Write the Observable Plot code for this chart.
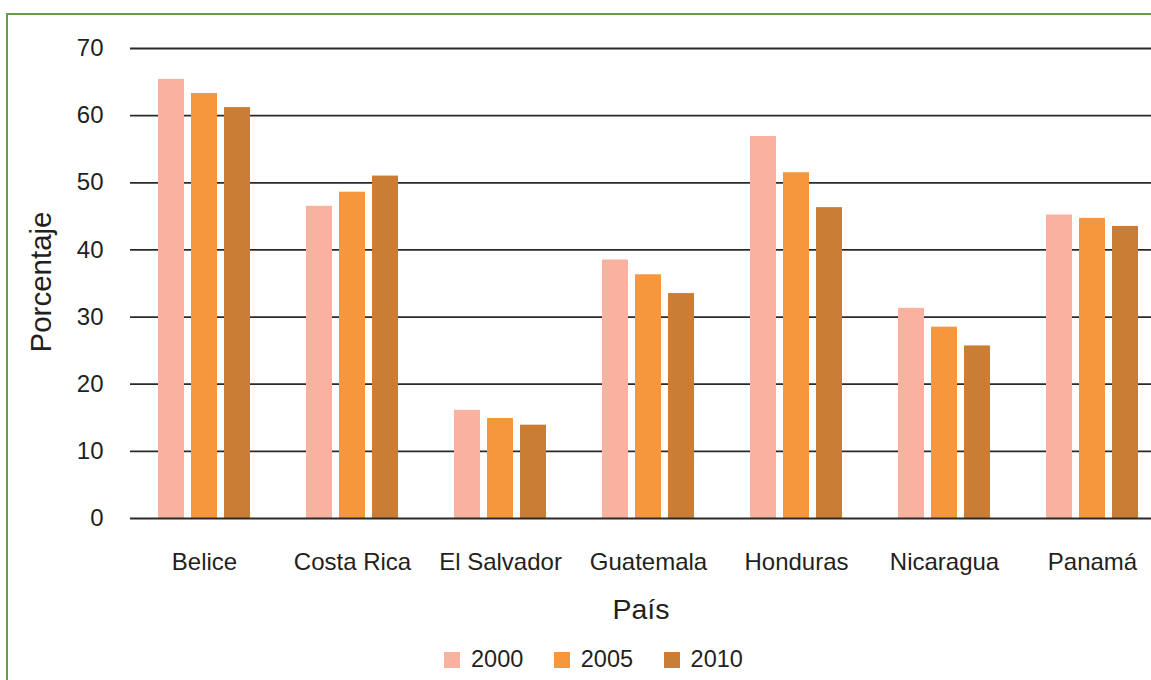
<!DOCTYPE html>
<html>
<head>
<meta charset="utf-8">
<script src="https://cdn.jsdelivr.net/npm/d3@7"></script>
<script src="https://cdn.jsdelivr.net/npm/@observablehq/plot@0.6"></script>
<style>
  html, body { margin: 0; padding: 0; background: #fff; overflow: hidden; width: 1151px; height: 680px; }
  body { position: relative; font-family: "Liberation Sans", Arial, sans-serif; color: #231f20; }
  #frame { position: absolute; left: 6px; top: 13px; width: 1200px; height: 720px; border-top: 2.5px solid #6a9b4c; border-left: 2.5px solid #6a9b4c; }
  #chart { position: absolute; left: 0; top: 0; width: 1200px; }
  #chart svg { max-width: none !important; }
  .ytitle { position: absolute; left: 41px; top: 282px; font-size: 29.5px; transform: translate(-50%, -50%) rotate(-90deg); white-space: nowrap; }
  .xtitle { position: absolute; left: 641px; top: 609px; font-size: 28.5px; transform: translate(-50%, -50%); white-space: nowrap; }
  #legend { position: absolute; left: 444px; top: 646px; display: flex; align-items: center; font-size: 23.5px; }
  .item { display: flex; align-items: center; margin-right: 30.5px; }
  .sw { width: 16px; height: 16px; margin-right: 11px; }
</style>
</head>
<body>
<div id="frame"></div>
<div id="chart"></div>
<div class="ytitle">Porcentaje</div>
<div class="xtitle">País</div>
<div id="legend"></div>
<script>
const countries = ["Belice", "Costa Rica", "El Salvador", "Guatemala", "Honduras", "Nicaragua", "Panamá"];
const years = ["2000", "2005", "2010"];
const v2000 = [65.4, 46.5, 16.1, 38.5, 56.9, 31.3, 45.2];
const v2005 = [63.3, 48.6, 14.9, 36.3, 51.5, 28.5, 44.7];
const v2010 = [61.2, 51.0, 13.9, 33.5, 46.3, 25.7, 43.5];
const colors = ["#f8b29f", "#f6963d", "#ca7d35"];
const yTicks = [0, 10, 20, 30, 40, 50, 60, 70];

const series = [v2000, v2005, v2010];
const data = countries.flatMap((c, i) => years.map((y, j) => ({country: c, year: y, value: series[j][i]})));

const chart = Plot.plot({
  width: 1166,
  height: 578,
  marginLeft: 130,
  marginRight: 0,
  marginTop: 48,
  marginBottom: 60,
  style: {fontFamily: "'Liberation Sans', Arial, sans-serif", fontSize: "24px", color: "#231f20", background: "transparent", maxWidth: "none"},
  facet: {data, x: "country"},
  fx: {domain: countries, padding: 0, axis: "bottom", tickSize: 0, tickPadding: 34, label: null},
  x: {domain: years, axis: null, paddingInner: 0.224, paddingOuter: 0.82},
  y: {domain: [0, 70], ticks: yTicks, tickSize: 0, tickPadding: 27, label: null},
  color: {domain: years, range: colors},
  marks: [
    Plot.ruleY(yTicks.slice(1), {stroke: "#2a2a2a", strokeWidth: 1.8}),
    Plot.barY(data, {x: "year", y: "value", fill: "year"}),
    Plot.ruleY([0], {stroke: "#2a2a2a", strokeWidth: 1.8})
  ]
});
document.getElementById("chart").appendChild(chart);

const legend = document.getElementById("legend");
years.forEach((y, i) => {
  const item = document.createElement("div");
  item.className = "item";
  const sw = document.createElement("div");
  sw.className = "sw";
  sw.style.background = colors[i];
  const t = document.createElement("span");
  t.textContent = y;
  item.appendChild(sw);
  item.appendChild(t);
  legend.appendChild(item);
});
</script>
</body>
</html>
